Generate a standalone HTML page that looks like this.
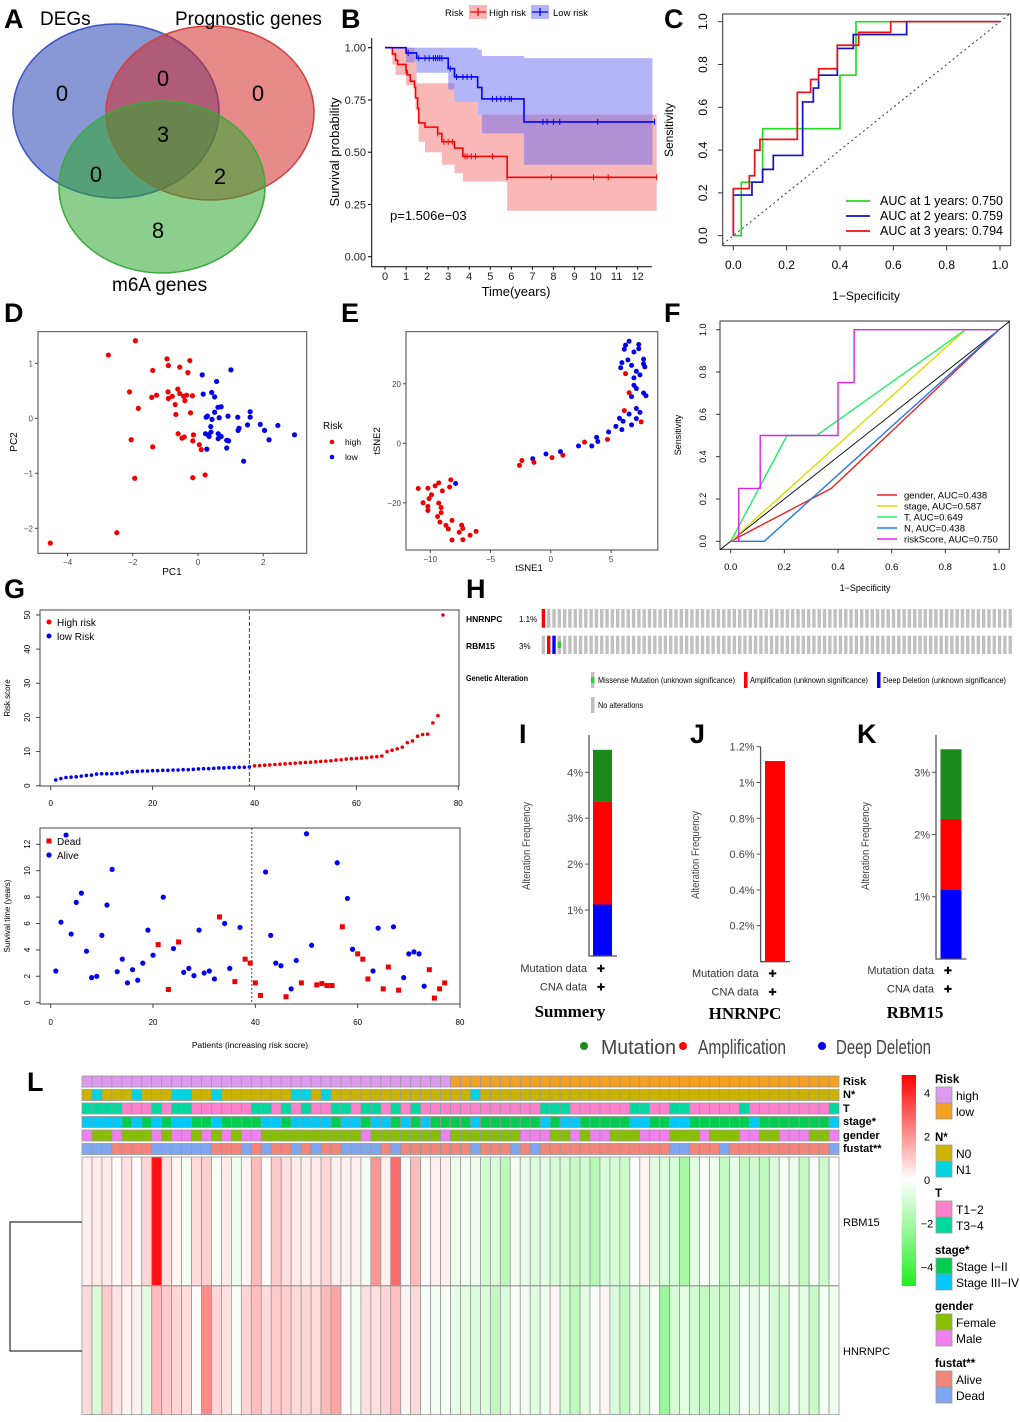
<!DOCTYPE html>
<html><head><meta charset="utf-8"><title>Figure</title>
<style>
html,body{margin:0;padding:0;background:#fff;}
svg{display:block;font-family:"Liberation Sans",Arial,sans-serif;}
.pl{font-weight:bold;font-size:27px;fill:#000;}
</style></head>
<body>
<svg id="fig" width="1020" height="1422" viewBox="0 0 1020 1422" xmlns="http://www.w3.org/2000/svg">
<rect x="0" y="0" width="1020" height="1422" fill="#fff"/>
<text class="pl" x="4" y="28">A</text>
<text class="pl" x="341" y="28">B</text>
<text class="pl" x="664" y="28">C</text>
<text class="pl" x="4" y="322">D</text>
<text class="pl" x="341" y="322">E</text>
<text class="pl" x="664" y="322">F</text>
<text class="pl" x="4" y="598">G</text>
<text class="pl" x="466" y="598">H</text>
<text class="pl" x="519" y="743">I</text>
<text class="pl" x="690" y="743">J</text>
<text class="pl" x="857" y="743">K</text>
<text class="pl" x="27" y="1091">L</text>

<g>
<ellipse cx="116" cy="111" rx="103" ry="87" fill="#2544b3" fill-opacity="0.55" stroke="#3a56c0" stroke-width="1.5"/>
<ellipse cx="210" cy="113" rx="104" ry="87" fill="#d22a2a" fill-opacity="0.55" stroke="#d24040" stroke-width="1.5"/>
<ellipse cx="162" cy="187" rx="103" ry="86" fill="#2ea82e" fill-opacity="0.55" stroke="#3aaa3a" stroke-width="1.5"/>
<g font-size="19" fill="#000">
<text x="40" y="25">DEGs</text>
<text x="175" y="25">Prognostic genes</text>
<text x="112" y="291">m6A genes</text>
</g>
<g font-size="22" fill="#000" text-anchor="middle">
<text x="62" y="101">0</text>
<text x="163" y="86">0</text>
<text x="258" y="101">0</text>
<text x="163" y="142">3</text>
<text x="96" y="182">0</text>
<text x="220" y="184">2</text>
<text x="158" y="238">8</text>
</g>
</g>

<g font-size="9" fill="#000">
<text x="466" y="622" font-weight="bold" font-size="8.5">HNRNPC</text>
<text x="519" y="622" font-size="8">1.1%</text>
<text x="466" y="649" font-weight="bold" font-size="8.5">RBM15</text>
<text x="519" y="649" font-size="8">3%</text>
<text x="466" y="681" font-weight="bold" font-size="8" textLength="62" lengthAdjust="spacingAndGlyphs">Genetic Alteration</text>
<rect x="591" y="672" width="3.5" height="16" fill="#c0c0c0"/>
<rect x="591" y="677" width="3.5" height="6" fill="#33cc33"/>
<text x="598" y="683" font-size="8.3" textLength="137" lengthAdjust="spacingAndGlyphs">Missense Mutation (unknown significance)</text>
<rect x="744" y="672" width="3.5" height="16" fill="#ff0000"/>
<text x="750" y="683" font-size="8.3" textLength="118" lengthAdjust="spacingAndGlyphs">Amplification (unknown significance)</text>
<rect x="877" y="672" width="3.5" height="16" fill="#0000ff"/>
<text x="883" y="683" font-size="8.3" textLength="123" lengthAdjust="spacingAndGlyphs">Deep Deletion (unknown significance)</text>
<rect x="591" y="697" width="3.5" height="16" fill="#c0c0c0"/>
<text x="598" y="708" font-size="8.3" textLength="45" lengthAdjust="spacingAndGlyphs">No alterations</text>
</g>

<g font-size="20" fill="#444">
<circle cx="584" cy="1046" r="4" fill="#1a8a1a"/>
<text x="601" y="1054" textLength="75" lengthAdjust="spacingAndGlyphs">Mutation</text>
<circle cx="683" cy="1046" r="4" fill="#ff0000"/>
<text x="698" y="1054" textLength="88" lengthAdjust="spacingAndGlyphs">Amplification</text>
<circle cx="822" cy="1046" r="4" fill="#0000ee"/>
<text x="836" y="1054" textLength="95" lengthAdjust="spacingAndGlyphs">Deep Deletion</text>
</g>
<g font-family="Liberation Serif, serif" font-weight="bold" font-size="17" text-anchor="middle" fill="#000">
<text x="570" y="1017">Summery</text>
<text x="745" y="1019">HNRNPC</text>
<text x="915" y="1018">RBM15</text>
</g>
</svg>
<script>
const svg=document.getElementById('fig');
const NS='http://www.w3.org/2000/svg';
function mk(tag,a,p){const e=document.createElementNS(NS,tag);for(const k in a)e.setAttribute(k,a[k]);(p||svg).appendChild(e);return e;}
function tx(x,y,s,a,p){const e=mk('text',Object.assign({x:x,y:y},a||{}),p);e.textContent=s;return e;}
function lin(d0,d1,r0,r1){return v=>r0+(v-d0)*(r1-r0)/(d1-d0);}

/* ===== DATA ===== */
const kmHighT=[0,0.35,0.5,0.6,1.0,1.05,1.2,1.4,1.45,1.55,1.6,1.9,2.5,2.7,3.3,3.7,5.8];
const kmHighS=[1,0.97,0.94,0.92,0.89,0.87,0.84,0.81,0.76,0.71,0.64,0.62,0.59,0.55,0.52,0.48,0.38];
const kmLowT=[0,1.0,1.5,3.0,3.3,4.4,4.6,6.6];
const kmLowS=[1,0.975,0.95,0.90,0.86,0.81,0.755,0.645];
const ciHighLoT=[0,0.35,0.5,1.0,1.4,1.45,1.6,1.9,2.7,3.3,3.7,5.8];
const ciHighLo=[1,0.92,0.87,0.82,0.76,0.70,0.55,0.50,0.44,0.40,0.36,0.22];
const ciHighUpT=[0,1.0,1.4,1.5,3.3,3.7,4.4];
const ciHighUp=[1,1,0.93,0.83,0.74,0.74,0.68];
const ciLowLoT=[0,1.0,1.5,3.0,3.3,4.4,4.6,6.6];
const ciLowLo=[1,0.93,0.88,0.80,0.74,0.68,0.59,0.44];
const ciLowUpT=[0,4.4,4.6,6.6];
const ciLowUp=[1,0.99,0.96,0.95];
const censHigh=[1.0,2.5,2.8,3.0,3.2,3.8,3.9,4.1,4.3,5.1,5.8,7.9,9.9,10.6,12.9];
const censLow=[1.1,1.6,1.9,2.1,2.3,2.4,2.5,2.6,2.7,3.1,3.4,3.7,3.9,4.1,5.1,5.3,5.5,5.7,5.9,6.0,7.5,7.7,8.0,8.3,10.1,12.8];
const kmTicksY=[0,0.25,0.5,0.75,1];
const kmTickLabY=['0.00','0.25','0.50','0.75','1.00'];
const kmTicksX=[0,1,2,3,4,5,6,7,8,9,10,11,12];
const roc1X=[0,0.03,0.03,0.11,0.11,0.40,0.40,0.46,0.46,1];
const roc1Y=[0,0,0.25,0.25,0.5,0.5,0.75,0.75,1,1];
const roc2X=[0,0,0.07,0.07,0.11,0.11,0.15,0.15,0.26,0.26,0.30,0.30,0.32,0.32,0.39,0.39,0.45,0.45,0.65,0.65,1];
const roc2Y=[0,0.19,0.19,0.25,0.25,0.31,0.31,0.375,0.375,0.625,0.625,0.69,0.69,0.75,0.75,0.875,0.875,0.94,0.94,1,1];
const roc3X=[0,0,0.06,0.06,0.08,0.08,0.10,0.10,0.24,0.24,0.29,0.29,0.32,0.32,0.39,0.39,0.47,0.47,0.59,0.59,1];
const roc3Y=[0,0.22,0.22,0.28,0.28,0.40,0.40,0.45,0.45,0.67,0.67,0.73,0.73,0.78,0.78,0.89,0.89,0.95,0.95,1,1];
const rocLegend=['AUC at 1 years: 0.750','AUC at 2 years: 0.759','AUC at 3 years: 0.794'];
const rocTicks=[0,0.2,0.4,0.6,0.8,1.0];
const rocTickLab=['0.0','0.2','0.4','0.6','0.8','1.0'];
const pcaHighX=[-1.92,-2.75,-0.95,-0.25,-0.91,-0.56,-1.39,-0.31,-2.1,-0.92,-0.62,-0.56,-0.79,-0.44,-0.35,-0.17,-1.27,-1.42,-0.91,-0.4,-0.7,-1.83,-0.23,-0.68,-0.61,-0.14,-0.42,-0.49,-0.16,-2.05,0.04,0.1,-1.39,0.22,-0.16,-1.94,-2.49,-4.53];
const pcaHighY=[1.41,1.15,1.08,1.05,0.96,0.93,0.87,0.83,0.48,0.48,0.53,0.45,0.4,0.4,0.42,0.41,0.42,0.38,0.36,0.32,0.25,0.18,0.1,0.07,-0.28,-0.3,-0.34,-0.36,-0.41,-0.39,-0.48,-0.57,-0.52,-1.03,-1.08,-1.09,-2.08,-2.27];
const pcaLowX=[1.01,0.13,0.57,0.16,0.42,0.51,0.71,0.61,0.51,0.29,0.25,0.65,0.92,1.22,1.6,1.6,0.43,1.91,1.52,2.45,1.26,1.23,2.04,0.39,0.23,0.4,0.31,0.62,0.34,0.71,0.62,0.88,0.94,2.18,2.96,0.27,0.88,1.4];
const pcaLowY=[0.88,0.79,0.67,0.44,0.47,0.39,0.21,0.2,0.11,0.04,0.02,0.01,0.04,0.02,0.12,0.02,-0.02,-0.11,-0.12,-0.13,-0.18,-0.22,-0.22,-0.15,-0.28,-0.25,-0.3,-0.28,-0.33,-0.33,-0.37,-0.4,-0.41,-0.39,-0.3,-0.56,-0.54,-0.78];
const tsLowX=[6.5,6.2,7.3,6.1,7.3,6.9,6.4,7.7,5.9,6.7,7.7,5.8,7.8,7.1,7.4,6.9,6.9,7.1,7.7,7.9,6.7,7.1,7.4,6.5,5.7,7.1,6.0,6.7,5.4,5.9,4.8,3.8,3.9,3.4,2.3,0.8,-0.4,-1.5,-7.9];
const tsLowY=[34.3,33,33.2,31.6,31.8,30.7,28,28.3,27.1,26.2,26.7,25.4,25.7,24.2,23,22,19.5,18.4,16.9,16,15.7,11.7,10.4,9.8,8.4,8.3,7.4,6.2,5.7,4.6,3.8,2,0.6,-0.9,-0.9,-2.8,-3.6,-5.2,-13.5];
const tsHighX=[6.2,6.5,6.1,7.5,4.7,2.8,1.0,0.1,-1.4,-2.4,-2.6,-8.3,-9.3,-9.6,-8.4,-10.2,-11,-9,-9.9,-10.1,-10.6,-9.3,-10.2,-9.1,-10.2,-9.1,-9.4,-9.2,-8.2,-8.7,-7.4,-8.5,-7.3,-7.6,-6.2,-6.7,-8.2,-7.3];
const tsHighY=[23.4,17,11,7.2,1.3,0.4,-4,-4.8,-6.4,-5.8,-7.4,-12.3,-13.3,-14.3,-14.7,-15.1,-15.2,-16,-17.3,-18.6,-20,-20.1,-21.2,-21.6,-22.6,-23.3,-24.6,-26.5,-25.9,-27.6,-27.5,-28.8,-28.6,-29.9,-29.6,-30.9,-32.5,-32.4];
const fGenderX=[0,0.375,1], fGenderY=[0,0.25,1];
const fStageX=[0,0.875,1], fStageY=[0,1,1];
const fTX=[0,0.21,0.32,0.875,1], fTY=[0,0.5,0.5,1,1];
const fNX=[0,0.125,1], fNY=[0,0,1];
const fRiskX=[0,0.03,0.03,0.11,0.11,0.40,0.40,0.46,0.46,1];
const fRiskY=[0,0,0.25,0.25,0.5,0.5,0.75,0.75,1,1];
const fLegend=['gender, AUC=0.438','stage, AUC=0.587','T, AUC=0.649','N, AUC=0.438','riskScore, AUC=0.750'];
const riskScores=[1.7,2.1,2.4,2.5,2.6,2.8,3.0,3.1,3.4,3.5,3.5,3.5,3.6,3.7,4.0,4.1,4.2,4.3,4.3,4.4,4.4,4.5,4.5,4.6,4.6,4.7,4.7,4.8,4.9,5.0,5.0,5.1,5.2,5.2,5.3,5.3,5.4,5.4,5.5,5.8,5.9,6.0,6.1,6.2,6.3,6.4,6.5,6.6,6.7,6.8,6.9,7.0,7.1,7.2,7.3,7.5,7.6,7.8,7.9,8.0,8.1,8.2,8.4,8.5,8.7,10.0,10.4,10.8,11.3,12.6,13.1,14.5,15.0,15.1,18.4,20.5,50];
const riskCut=39;
const survTimes=[2.4,6.1,12.7,5.2,7.6,8.3,3.9,1.9,2.0,5.1,7.4,10.1,2.35,3.3,1.5,2.5,1.7,3.0,5.5,3.6,4.4,8.0,1.0,4.1,4.6,2.3,2.6,2.05,5.5,2.25,2.4,1.8,6.5,6.0,2.6,1.6,5.7,3.3,3.0,1.5,0.55,9.9,5.1,3.0,2.8,0.45,1.05,3.2,1.5,12.8,4.35,1.35,1.45,1.3,1.3,10.6,5.75,7.9,4.05,3.7,3.3,1.8,2.4,5.65,1.05,2.7,5.75,0.95,1.9,3.7,3.85,3.7,1.25,2.5,0.35,1.05,1.5];
const deadPatients=[21,23,25,33,36,38,39,40,41,46,49,52,53,54,55,57,60,61,62,65,66,68,74,75,76,77];
const onco1=["A"];
const onco2=["N","A","D","M"];
const oncoSamples=89;
const iStack=[1.12,2.25,1.12];
const jStack=[0,1.12,0];
const kStack=[1.12,1.13,1.12];
const iTicks=[1,2,3,4], jTicks=[0.2,0.4,0.6,0.8,1.0,1.2], kTicks=[1,2,3];
const iTickLab=['1%','2%','3%','4%'], jTickLab=['0.2%','0.4%','0.6%','0.8%','1%','1.2%'], kTickLab=['1%','2%','3%'];
const hmRBM15=[.3,.4,.4,.1,.6,.1,.8,4.5,.6,.2,-.3,.7,.9,-.2,.4,-.4,.2,1.3,.1,1.0,.6,.4,.3,.4,.8,.3,.3,.3,-.3,2.0,.3,2.8,.1,1.3,.1,.3,.3,-.4,-.3,-.4,-1.0,-.8,-1.5,-.3,-.5,-.8,-.6,-.9,-.9,-1.2,-1.0,-1.6,-.8,-.9,-1.1,0,.2,-.6,-.8,-.9,-1.9,-.6,-.2,-.4,-1.3,-.5,-1.3,-1.0,-1.4,-.8,-.3,-.4,-1.3,-.2,-1.1,-.1];
const hmHNRNPC=[.7,-.8,1.0,.5,.2,.3,-.6,1.3,1.0,.8,.7,.1,2.2,.8,.6,-.1,.8,1.2,.7,1.0,.9,.7,.8,.7,1.3,1.7,.05,-.3,.6,.6,.8,1.2,.2,.7,-.2,-.3,-.2,-.5,-.6,-.8,-.7,-1.3,-.8,-.1,-.3,-.7,-.4,.2,-.9,-1.4,-.6,-.2,.2,-.8,-1.3,-.5,-.8,-.2,-2.2,-.9,-.6,-1.0,-1.3,-1.0,-1.2,-.9,-.3,-.5,-.3,-.9,-1.0,-.2,-.6,-1.2,-.3,-.4];
const annRisk="HHHHHHHHHHHHHHHHHHHHHHHHHHHHHHHHHHHHH"+"LLLLLLLLLLLLLLLLLLLLLLLLLLLLLLLLLLLLLLL";
const annN="YCYYYCYYYCCYYCYYYYYYYCCYC"+"YYYYYYYYYYYYYY"+"C"+"YYYYYYYYYYYYYYYYYYYYYYYYYYYYYYYYYYYY";
const annT="GGGGPPPGPGGPPPPPPGGPGPGPPGGPGGPGPG"+"PPPPPPPPPPPP"+"GGG"+"PPPPPP"+"GG"+"PP"+"GG"+"PPPPP"+"G"+"PPPPPPPP"+"G";
const annStage="CCCCGCGCGCCGGCGGGGCCGCCCCGCCGCCGCGC"+"GGGG"+"C"+"GGGGGG"+"C"+"G"+"CC"+"GGGGG"+"CC"+"GG"+"CC"+"GGGGGG"+"C"+"GGGGGGG"+"C";
const annGender="MFFMFFFMFMMFMFMFMM"+"FFFFFFFFFF"+"M"+"FFFFFFF"+"M"+"FFFFFFF"+"MMM"+"F"+"F"+"M"+"F"+"MM"+"FFF"+"MMM"+"FFF"+"M"+"FFF"+"MM"+"FF"+"MMM"+"FF"+"M";
const annFustat="DDD"+"AAAA"+"DDDDDD"+"AAA"+"D"+"A"+"D"+"AA"+"D"+"A"+"D"+"AA"+"DDDD"+"A"+"D"+"AAAAAAA"+"D"+"AAA"+"D"+"A"+"D"+"AAAAAAAAAAAAA"+"DD"+"AAA"+"D"+"AAAAAAAAAA"+"D";
const hmTicks=[4,2,0,-2,-4];

const RED='#ee0000', BLUE='#0000ee';
function polyPath(xs,ys,fx,fy){let d='';for(let i=0;i<xs.length;i++)d+=(i?'L':'M')+fx(xs[i]).toFixed(2)+' '+fy(ys[i]).toFixed(2);return d;}
function stepPath(ts,ss,tEnd,fx,fy){let d='M'+fx(ts[0])+' '+fy(ss[0]);for(let i=1;i<ts.length;i++)d+='H'+fx(ts[i])+'V'+fy(ss[i]);d+='H'+fx(tEnd);return d;}
function sAt(ts,ss,t){let s=ss[0];for(let i=0;i<ts.length;i++)if(ts[i]<=t)s=ss[i];return s;}
function bandPath(ut,us,lt,ls,tEnd,fx,fy){
  let d='M'+fx(ut[0])+' '+fy(us[0]);
  for(let i=1;i<ut.length;i++)d+='H'+fx(ut[i])+'V'+fy(us[i]);
  d+='H'+fx(tEnd)+'V'+fy(ls[ls.length-1]);
  for(let i=lt.length-1;i>=1;i--)d+='H'+fx(lt[i])+'V'+fy(ls[i-1]);
  d+='H'+fx(lt[0])+'Z';return d;}

/* B */
(function(){
 const g=mk('g',{});
 
 
 const x=lin(0,12,385,637.7), y=lin(0,1,256.7,47.7);
 const bh=mk('path',{d:bandPath(ciHighUpT,ciHighUp,ciHighLoT,ciHighLo,12.9,x,y),fill:'#f47070','fill-opacity':0.5},g);
 
 
 const bl=mk('path',{d:bandPath(ciLowUpT,ciLowUp,ciLowLoT,ciLowLo,12.7,x,y),fill:'#6a6af4','fill-opacity':0.5},g);
 
 
 const lh=mk('path',{d:stepPath(kmHighT,kmHighS,12.9,x,y),fill:'none',stroke:'#ff0000','stroke-width':1.6},g);
 
 
 const ll=mk('path',{d:stepPath(kmLowT,kmLowS,12.8,x,y),fill:'none',stroke:'#0000ff','stroke-width':1.6},g);
 
 
 censHigh.forEach(t=>{const c=mk('path',{d:'M'+x(t)+' '+(y(sAt(kmHighT,kmHighS,t))-3)+'v6',stroke:'#ff0000','stroke-width':1},g);
  
  });
 censLow.forEach(t=>{const c=mk('path',{d:'M'+x(t)+' '+(y(sAt(kmLowT,kmLowS,t))-3)+'v6',stroke:'#0000ff','stroke-width':1},g);
  
  });
 const ax=mk('path',{d:'M371.7 38V266.7H652',fill:'none',stroke:'#000','stroke-width':1},g);
 
 
 kmTicksY.forEach((v,i)=>{mk('path',{d:'M368 '+y(v)+'H371.7',stroke:'#000'},g);
  const t=tx(366,y(v)+4,kmTickLabY[i],{'text-anchor':'end','font-size':11,fill:'#222'},g);
  
  });
 kmTicksX.forEach(v=>{mk('path',{d:'M'+x(v)+' 266.7v3',stroke:'#000'},g);
  const t=tx(x(v),280,String(v),{'text-anchor':'middle','font-size':11,fill:'#222'},g);
  
  });
 const xt=tx(516,296,'Time(years)',{'text-anchor':'middle','font-size':13},g);
 
 
 const yt=tx(0,0,'Survival probability',{'text-anchor':'middle','font-size':13,transform:'translate(339,152) rotate(-90)'},g);
 
 
 const pv=tx(390,220,'p=1.506e\u221203',{'font-size':13},g);
 
 
 const lg=mk('g',{'font-size':9.5},g);
 
 
 tx(445,16,'Risk',{},lg);
 mk('rect',{x:469,y:5,width:18,height:14,fill:'#f47070','fill-opacity':0.5},lg);
 mk('path',{d:'M470 12h16M478 8v8',stroke:'#ff0000','stroke-width':1.3},lg);
 tx(489,16,'High risk',{},lg);
 mk('rect',{x:531,y:5,width:18,height:14,fill:'#6a6af4','fill-opacity':0.5},lg);
 mk('path',{d:'M532 12h16M540 8v8',stroke:'#0000ff','stroke-width':1.3},lg);
 tx(553,16,'Low risk',{},lg);
})();

/* C */
(function(){
 const g=mk('g',{});
 
 
 const x=lin(0,1,733.3,1000), y=lin(0,1,235.7,21.7);
 const fr=mk('rect',{x:722.7,y:14,width:288,height:231.7,fill:'none',stroke:'#333'},g);
 
 
 const dg=mk('path',{d:'M'+x(-0.04)+' '+y(-0.04)+'L'+x(1.04)+' '+y(1.04),stroke:'#333','stroke-dasharray':'2,3'},g);
 
 
 [[roc1X,roc1Y,'#22dd22'],[roc2X,roc2Y,'#1010c8'],[roc3X,roc3Y,'#ee1111']].forEach((r,i)=>{
  const p=mk('path',{d:polyPath(r[0],r[1],x,y),fill:'none',stroke:r[2],'stroke-width':1.7},g);
  
  
  mk('path',{d:'M846 '+(201+i*15)+'h24',stroke:r[2],'stroke-width':1.7},g);
  const t=tx(880,205+i*15,rocLegend[i],{'font-size':12.5},g);
  
  });
 rocTicks.forEach((v,i)=>{
  mk('path',{d:'M718 '+y(v)+'h4.7',stroke:'#333'},g);
  const t=tx(0,0,rocTickLab[i],{'text-anchor':'middle','font-size':12,transform:'translate(707,'+y(v)+') rotate(-90)'},g);
  
  
  mk('path',{d:'M'+x(v)+' 245.7v4.7',stroke:'#333'},g);
  const u=tx(x(v),269,rocTickLab[i],{'text-anchor':'middle','font-size':12},g);
  
  });
 const yt=tx(0,0,'Sensitivity',{'text-anchor':'middle','font-size':12,transform:'translate(673,130) rotate(-90)'},g);
 
 
 const xt=tx(866,300,'1\u2212Specificity',{'text-anchor':'middle','font-size':12},g);
 
 
})();

/* D */
(function(){
 const g=mk('g',{});
 
 
 const x=v=>198+v*32.6, y=v=>418.3-v*55;
 const fr=mk('rect',{x:38,y:331.7,width:268.7,height:221.6,fill:'none',stroke:'#444'},g);
 
 
 pcaHighX.forEach((v,i)=>{const c=mk('circle',{cx:x(v),cy:y(pcaHighY[i]),r:2.6,fill:RED},g);
  
  });
 pcaLowX.forEach((v,i)=>{const c=mk('circle',{cx:x(v),cy:y(pcaLowY[i]),r:2.6,fill:BLUE},g);
  
  });
 [-4,-2,0,2].forEach(v=>{mk('path',{d:'M'+x(v)+' 553.3v3',stroke:'#444'},g);
  const t=tx(x(v),565,v<0?'\u2212'+(-v):String(v),{'text-anchor':'middle','font-size':8,fill:'#444'},g);
  
  });
 [-2,-1,0,1].forEach(v=>{mk('path',{d:'M35 '+y(v)+'h3',stroke:'#444'},g);
  const t=tx(33,y(v)+3,v<0?'\u2212'+(-v):String(v),{'text-anchor':'end','font-size':8,fill:'#444'},g);
  
  });
 const xt=tx(172,575,'PC1',{'text-anchor':'middle','font-size':10},g);
 
 
 const yt=tx(0,0,'PC2',{'text-anchor':'middle','font-size':10,transform:'translate(17,442) rotate(-90)'},g);
 
 
 const lg=mk('g',{'font-size':8.5},g);
 
 
 tx(323,429,'Risk',{'font-size':10},lg);
 mk('circle',{cx:332,cy:442,r:2.3,fill:RED},lg); tx(345,445,'high',{},lg);
 mk('circle',{cx:332,cy:457,r:2.3,fill:BLUE},lg); tx(345,460,'low',{},lg);
})();

/* E */
(function(){
 const g=mk('g',{});
 
 
 const x=v=>550.8+v*12.05, y=v=>443.3-v*2.975;
 const fr=mk('rect',{x:406,y:331.7,width:251.8,height:218.3,fill:'none',stroke:'#444'},g);
 
 
 tsLowX.forEach((v,i)=>{const c=mk('circle',{cx:x(v),cy:y(tsLowY[i]),r:2.5,fill:BLUE},g);
  
  });
 tsHighX.forEach((v,i)=>{const c=mk('circle',{cx:x(v),cy:y(tsHighY[i]),r:2.5,fill:RED},g);
  
  });
 [-10,-5,0,5].forEach(v=>{mk('path',{d:'M'+x(v)+' 550v3',stroke:'#444'},g);
  const t=tx(x(v),562,v<0?'\u2212'+(-v):String(v),{'text-anchor':'middle','font-size':8,fill:'#444'},g);
  
  });
 [-20,0,20].forEach(v=>{mk('path',{d:'M403 '+y(v)+'h3',stroke:'#444'},g);
  const t=tx(401,y(v)+3,v<0?'\u2212'+(-v):String(v),{'text-anchor':'end','font-size':8,fill:'#444'},g);
  
  });
 const xt=tx(529,571,'tSNE1',{'text-anchor':'middle','font-size':9.5},g);
 
 
 const yt=tx(0,0,'tSNE2',{'text-anchor':'middle','font-size':9.5,transform:'translate(380,441) rotate(-90)'},g);
 
 
})();

/* F */
(function(){
 const g=mk('g',{});
 
 
 const x=lin(0,1,730.7,999), y=lin(0,1,541.3,329.7);
 const fr=mk('rect',{x:720,y:321,width:289.3,height:228.3,fill:'none',stroke:'#333'},g);
 
 
 const dg=mk('path',{d:'M'+x(-0.04)+' '+y(-0.04)+'L'+x(1.04)+' '+y(1.04),stroke:'#000','stroke-width':0.9},g);
 
 
 const curves=[[fGenderX,fGenderY,'#ee2222'],[fStageX,fStageY,'#dddd00'],[fTX,fTY,'#22ee66'],[fNX,fNY,'#2277ee'],[fRiskX,fRiskY,'#dd22ee']];
 curves.forEach((r,i)=>{
  const p=mk('path',{d:polyPath(r[0],r[1],x,y),fill:'none',stroke:r[2],'stroke-width':1.4},g);
  
  
  mk('path',{d:'M877 '+(495+i*11)+'h20',stroke:r[2],'stroke-width':1.5},g);
  const t=tx(904,498.5+i*11,fLegend[i],{'font-size':9.5},g);
  
  });
 rocTicks.forEach((v,i)=>{
  mk('path',{d:'M716 '+y(v)+'h4',stroke:'#333'},g);
  const t=tx(0,0,rocTickLab[i],{'text-anchor':'middle','font-size':9,transform:'translate(706,'+y(v)+') rotate(-90)'},g);
  
  
  mk('path',{d:'M'+x(v)+' 549.3v4',stroke:'#333'},g);
  const u=tx(x(v),570,rocTickLab[i],{'text-anchor':'middle','font-size':9.5},g);
  
  });
 const yt=tx(0,0,'Sensitivity',{'text-anchor':'middle','font-size':9,transform:'translate(681,435) rotate(-90)'},g);
 
 
 const xt=tx(865,591,'1\u2212Specificity',{'text-anchor':'middle','font-size':9},g);
 
 
})();

/* G */
(function(){
 const g=mk('g',{'font-size':8});
 
 
 const x1=lin(0,80,50.7,458.3), y1=lin(0,50,785.7,615);
 const fr1=mk('rect',{x:40,y:610,width:419,height:176,fill:'none',stroke:'#444'},g);
 
 
 riskScores.forEach((v,i)=>{const c=mk('circle',{cx:x1(i+1),cy:y1(v),r:1.8,fill:(i+1)<=riskCut?BLUE:RED},g);
  
  });
 const vl=mk('path',{d:'M'+x1(riskCut)+' 610V786',stroke:'#444','stroke-dasharray':'4,2'},g);
 
 
 [0,10,20,30,40,50].forEach(v=>{mk('path',{d:'M36 '+y1(v)+'h4',stroke:'#444'},g);
  const t=tx(0,0,String(v),{'text-anchor':'middle',transform:'translate(30,'+y1(v)+') rotate(-90)'},g);
  
  });
 [0,20,40,60,80].forEach(v=>{mk('path',{d:'M'+x1(v)+' 786v4',stroke:'#444'},g);
  const t=tx(x1(v),806,String(v),{'text-anchor':'middle'},g);
  
  });
 const yt1=tx(0,0,'Risk score',{'text-anchor':'middle',transform:'translate(10,698) rotate(-90)'},g);
 
 
 const lg1=mk('g',{'font-size':10},g);
 
 
 mk('circle',{cx:49,cy:622,r:2.5,fill:RED},lg1); tx(57,626,'High risk',{},lg1);
 mk('circle',{cx:49,cy:636,r:2.5,fill:BLUE},lg1); tx(57,640,'low Risk',{},lg1);

 const x2=lin(0,80,50.7,460), y2=lin(0,12,1002.7,844.3);
 const fr2=mk('rect',{x:40,y:828,width:420,height:176,fill:'none',stroke:'#444'},g);
 
 
 survTimes.forEach((v,i)=>{
  let c;
  if(deadPatients.indexOf(i+1)>=0){c=mk('rect',{x:x2(i+1)-2.5,y:y2(v)-2.5,width:5,height:5,fill:RED},g);
   }
  else{c=mk('circle',{cx:x2(i+1),cy:y2(v),r:2.6,fill:BLUE},g);
   }
  });
 const vl2=mk('path',{d:'M'+x2(riskCut+0.3)+' 828V1004',stroke:'#444','stroke-dasharray':'2,2'},g);
 
 
 [0,2,4,6,8,10,12].forEach(v=>{mk('path',{d:'M36 '+y2(v)+'h4',stroke:'#444'},g);
  const t=tx(0,0,String(v),{'text-anchor':'middle',transform:'translate(30,'+y2(v)+') rotate(-90)'},g);
  
  });
 [0,20,40,60,80].forEach(v=>{mk('path',{d:'M'+x2(v)+' 1004v4',stroke:'#444'},g);
  const t=tx(x2(v),1025,String(v),{'text-anchor':'middle'},g);
  
  });
 const yt2=tx(0,0,'Survival time (years)',{'text-anchor':'middle',transform:'translate(10,916) rotate(-90)'},g);
 
 
 const xt2=tx(250,1048,'Patients (increasing risk socre)',{'text-anchor':'middle','font-size':8.5},g);
 
 
 const lg2=mk('g',{'font-size':10},g);
 
 
 mk('rect',{x:46.5,y:838.5,width:5,height:5,fill:RED},lg2); tx(57,845,'Dead',{},lg2);
 mk('circle',{cx:49,cy:855,r:2.6,fill:BLUE},lg2); tx(57,859,'Alive',{},lg2);
})();

/* H */
(function(){
 const g=mk('g',{});
 
 
 const x=lin(0,oncoSamples,541.7,1013.8), w=3.4;
 const colr={A:'#ff0000',D:'#0000ff'};
 for(let i=0;i<oncoSamples;i++){
  const a1=i<onco1.length?onco1[i]:'N';
  const r1=mk('rect',{x:x(i),y:609,width:w,height:18.7,fill:colr[a1]||'#c0c0c0'},g);
  
  
  const a2=i<onco2.length?onco2[i]:'N';
  const r2=mk('rect',{x:x(i),y:635.7,width:w,height:18.3,fill:colr[a2]||'#c0c0c0'},g);
  
  
  if(a2==='M'){const m=mk('rect',{x:x(i),y:641.5,width:w,height:6.5,fill:'#33cc33'},g);
   
   }
 }
})();

/* I J K */
function stackPanel(name,axX,top,bottom,zeroY,pxPer,barX,barW,stack,ticks,labs,ytitleX,ytitleY,labY){
 const g=mk('g',{});
 
 
 const y=v=>zeroY-v*pxPer;
 const cols=['#0000ff','#ff0000','#1a8a1a'];
 let acc=0;
 stack.forEach((v,i)=>{ if(v<=0)return;
  const r=mk('rect',{x:barX,y:y(acc+v),width:barW,height:v*pxPer,fill:cols[i]},g);
  
  
  acc+=v;});
 const ax=mk('path',{d:'M'+axX+' '+top+'V'+bottom+'H'+(barX+barW+5),fill:'none',stroke:'#555','stroke-width':1.3},g);
 
 
 ticks.forEach((v,i)=>{mk('path',{d:'M'+(axX-4)+' '+y(v)+'h4',stroke:'#555'},g);
  const t=tx(axX-6,y(v)+4,labs[i],{'text-anchor':'end','font-size':11,fill:'#444'},g);
  
  });
 const yt=tx(0,0,'Alteration Frequency',{'text-anchor':'middle','font-size':11,fill:'#444',textLength:88,lengthAdjust:'spacingAndGlyphs',transform:'translate('+ytitleX+','+ytitleY+') rotate(-90)'},g);
 
 
 const m=tx(axX-2,labY,'Mutation data',{'text-anchor':'end','font-size':11,fill:'#333'},g);
 
 
 const p1=tx(axX+12,labY,'\u271A',{'text-anchor':'middle','font-size':10},g);
 
 
 const c=tx(axX-2,labY+18.5,'CNA data',{'text-anchor':'end','font-size':11,fill:'#333'},g);
 
 
 const p2=tx(axX+12,labY+18.5,'\u271A',{'text-anchor':'middle','font-size':10},g);
 
 
}
stackPanel('bar-summary',589,735,956,955.9,45.9,593,19,iStack,iTicks,iTickLab,530,846,972);
stackPanel('bar-hnrnpc',760.6,746.7,961.7,961.5,179,765,20,jStack,jTicks,jTickLab,699,855,977);
stackPanel('bar-rbm15',936,735,959,958.9,62.2,940.5,21,kStack,kTicks,kTickLab,869,846,974);

/* L */
(function(){
 const g=mk('g',{});
 
 
 const n=hmRBM15.length, x0=82, x1=839, cw=(x1-x0)/n;
 const annColors={
  risk:{H:'#dd99ee',L:'#f5a020'}, n:{Y:'#ccb300',C:'#00d4e0'}, t:{P:'#ff80cc',G:'#00d8a0'},
  stage:{G:'#00cc50',C:'#00c8f8'}, gender:{F:'#88c000',M:'#f080f0'}, fustat:{A:'#f4857a',D:'#7fa6f0'}};
 const rows=[['risk',annRisk,1076],['n',annN,1089.5],['t',annT,1103],['stage',annStage,1116.5],['gender',annGender,1130],['fustat',annFustat,1143.5]];
 rows.forEach(r=>{
  for(let i=0;i<n;i++){
   const c=mk('rect',{x:x0+i*cw,y:r[2],width:cw,height:11,fill:annColors[r[0]][r[1][i]]||'#fff',stroke:'#999','stroke-width':0.8},g);
   
   
  }});
 function hcol(v){
  const t=Math.min(Math.abs(v)/4.8,1);
  if(v>=0){return 'rgb(255,'+Math.round(255-255*t)+','+Math.round(255-255*t)+')';}
  return 'rgb('+Math.round(255-221*t)+','+Math.round(255-17*t)+','+Math.round(255-221*t)+')';}
 [[hmRBM15,1157,'rbm15'],[hmHNRNPC,1286,'hnrnpc']].forEach(r=>{
  for(let i=0;i<n;i++){
   const c=mk('rect',{x:x0+i*cw,y:r[1],width:cw,height:128.5,fill:hcol(r[0][i]),stroke:'#999','stroke-width':0.8},g);
   
   
  }});
 const dd=mk('path',{d:'M82 1222H10V1351H82',fill:'none',stroke:'#000','stroke-width':1},g);
 
 
 const labs=[['Risk',1085],['N*',1098],['T',1112],['stage*',1125],['gender',1139],['fustat**',1152]];
 labs.forEach(l=>{const t=tx(843,l[1],l[0],{'font-size':11,'font-weight':'bold'},g);
  
  });
 const rl1=tx(843,1226,'RBM15',{'font-size':11},g);
 
 
 const rl2=tx(843,1355,'HNRNPC',{'font-size':11},g);
 
 
 const defs=mk('defs',{});
 const gr=mk('linearGradient',{id:'cb',x1:0,y1:0,x2:0,y2:1},defs);
 mk('stop',{offset:'0','stop-color':'#ff0000'},gr);
 mk('stop',{offset:'0.497','stop-color':'#ffffff'},gr);
 mk('stop',{offset:'1','stop-color':'#22ee22'},gr);
 const cb=mk('rect',{x:901.7,y:1075,width:14.3,height:211,fill:'url(#cb)'},g);
 
 
 hmTicks.forEach(v=>{const t=tx(927,1180-v*21.75+4,v<0?'\u2212'+(-v):String(v),{'text-anchor':'middle','font-size':11},g);
  
  });
 const lg=mk('g',{'font-size':12},g);
 
 
 const groups=[['Risk',1083,[['high','#dd99ee'],['low','#f5a020']]],['N*',1141,[['N0','#ccb300'],['N1','#00d4e0']]],
  ['T',1197,[['T1\u22122','#ff80cc'],['T3\u22124','#00d8a0']]],['stage*',1254,[['Stage I\u2212II','#00cc50'],['Stage III\u2212IV','#00c8f8']]],
  ['gender',1310,[['Female','#88c000'],['Male','#f080f0']]],['fustat**',1367,[['Alive','#f4857a'],['Dead','#7fa6f0']]]];
 groups.forEach(gp=>{
  const h=tx(935,gp[1],gp[0],{'font-weight':'bold','font-size':11.5},lg);
  
  
  gp[2].forEach((it,j)=>{
   const r=mk('rect',{x:936,y:gp[1]+4+j*16,width:16,height:16,fill:it[1],stroke:'#999','stroke-width':0.8},lg);
   
   
   const t=tx(956,gp[1]+17+j*16,it[0],{},lg);
   
   
  });});
})();
</script>
</body></html>
